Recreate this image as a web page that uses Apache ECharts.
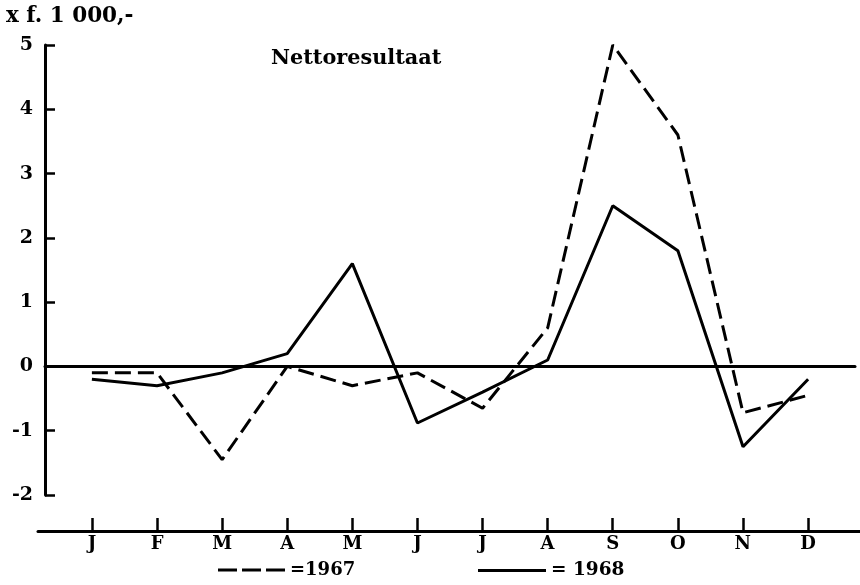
<!DOCTYPE html>
<html><head><meta charset="utf-8">
<script src="https://cdn.jsdelivr.net/npm/echarts@6/dist/echarts.min.js"></script>
<style>html,body{margin:0;padding:0;background:#fff}#c{width:860px;height:585px}</style>
</head><body><div id="c"></div>
<script>
var months = ['J','F','M','A','M','J','J','A','S','O','N','D'];
var monthPos = [1,2,3,4,5,6,7,8,9,10,11,12];
var values1967 = [-0.1,-0.1,-1.45,0.0,-0.3,-0.1,-0.65,0.6,5.0,3.6,-0.72,-0.45];
var values1968 = [-0.2,-0.3,-0.1,0.2,1.6,-0.88,-0.4,0.1,2.5,1.8,-1.25,-0.2];
var yTicks = [-2,-1,0,1,2,3,4,5];
var name1967 = '=1967', name1968 = '= 1968';

function pairs(vals){ return vals.map(function(v,i){ return [monthPos[i], v]; }); }
var font = 'DejaVu Serif';
var txt = function(size){ return {fontFamily:font, fontWeight:'bold', fontSize:size, color:'#000'}; };
var chart = echarts.init(document.getElementById('c'), null, {renderer:'canvas'});
chart.setOption({
  backgroundColor:'#fff',
  animation:false,
  title:[
    {text:'x f. 1 000,-', left:6, top:5, padding:0, textStyle:txt(21.5)},
    {text:'Nettoresultaat', left:271, top:48, padding:0, textStyle:txt(20.8)}
  ],
  legend:[
    {data:[{name:name1967, icon:'path://M0,0h19v3h-19z M24,0h19v3h-19z M48,0h19v3h-19z'}],
     left:218, top:561, padding:0, itemWidth:67, itemHeight:3, itemStyle:{color:'#000'}, textStyle:txt(18)},
    {data:[{name:name1968, icon:'path://M0,0h70v3h-70z'}],
     left:478, top:561, padding:0, itemWidth:68, itemHeight:3, itemStyle:{color:'#000'}, textStyle:txt(18.5)}
  ],
  grid:[
    {left:45, right:5, top:45, bottom:90},
    {left:38, right:0, top:500, bottom:54}
  ],
  xAxis:[
    {type:'value', gridIndex:0, min:0.28, max:12.72, splitLine:{show:false},
     axisLine:{onZero:true, lineStyle:{color:'#000', width:3}}, axisTick:{show:false}, axisLabel:{show:false}},
    {type:'value', gridIndex:1, min:0.17, max:12.8, position:'bottom', splitLine:{show:false},
     axisLine:{onZero:false, lineStyle:{color:'#000', width:3}},
     axisTick:{inside:true, length:13, customValues:monthPos, lineStyle:{color:'#000', width:2.5}},
     axisLabel:{customValues:monthPos, margin:4, formatter:function(v){ return months[Math.round(v)-1] || ''; },
       fontFamily:font, fontWeight:'bold', fontSize:18, color:'#000'}}
  ],
  yAxis:[
    {type:'value', gridIndex:0, min:-2, max:5, interval:1, splitLine:{show:false},
     axisLine:{show:true, lineStyle:{color:'#000', width:3}},
     axisTick:{show:true, inside:true, length:10, lineStyle:{color:'#000', width:2.5}},
     axisLabel:{margin:12, fontFamily:font, fontWeight:'bold', fontSize:19, color:'#000'}},
    {type:'value', gridIndex:1, show:false}
  ],
  series:[
    {name:name1967, type:'line', xAxisIndex:0, yAxisIndex:0, data:pairs(values1967), symbol:'none',
     lineStyle:{color:'#000', width:3, type:[16,7]}, itemStyle:{color:'#000'}},
    {name:name1968, type:'line', xAxisIndex:0, yAxisIndex:0, data:pairs(values1968), symbol:'none',
     lineStyle:{color:'#000', width:3}, itemStyle:{color:'#000'}}
  ]
});
</script></body></html>
